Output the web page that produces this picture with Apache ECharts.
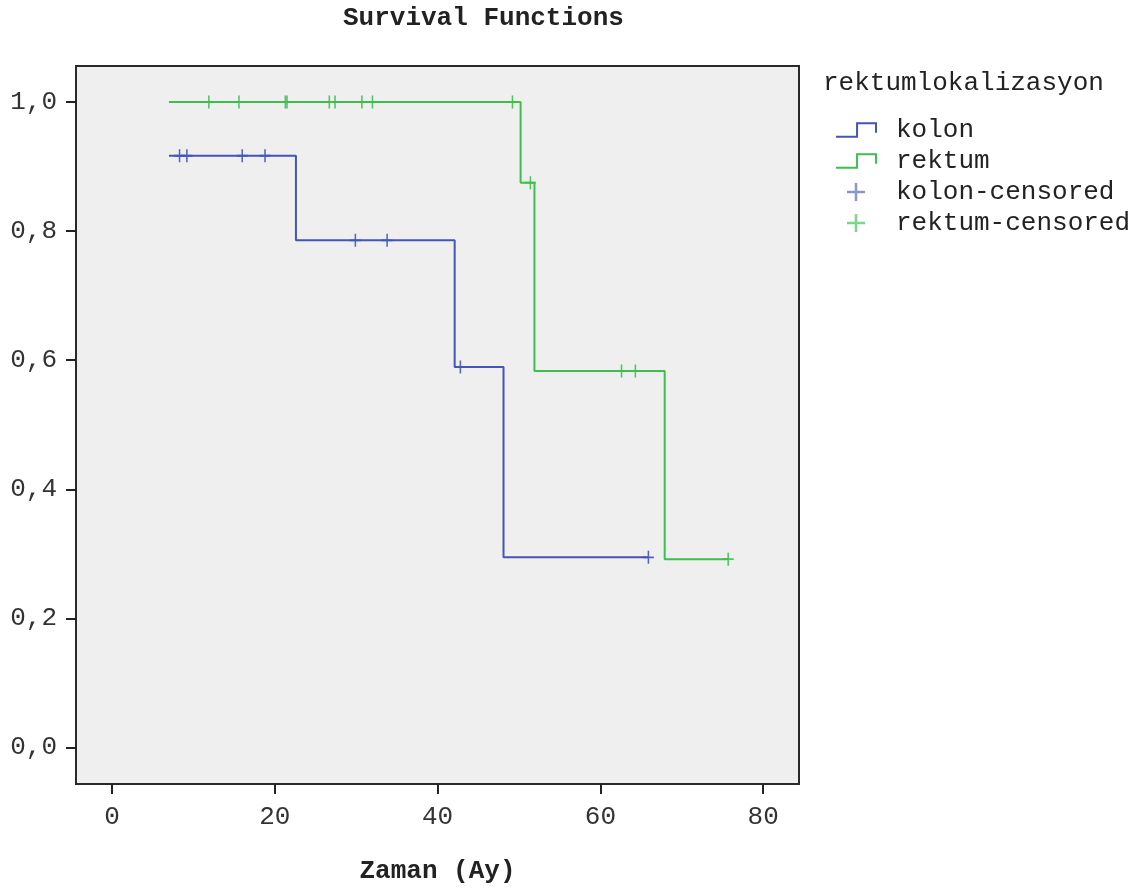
<!DOCTYPE html>
<html>
<head>
<meta charset="utf-8">
<script src="https://cdn.jsdelivr.net/npm/echarts@6/dist/echarts.min.js"></script>
<style>
html,body{margin:0;padding:0;background:#fff;}
#chart{width:1145px;height:888px;}
</style>
</head>
<body>
<div id="chart"></div>
<script>
// Kaplan-Meier step curves (time in months, survival)
const kolonTimes = [7.0, 22.6, 42.1, 48.1, 65.9];
const kolonSurv  = [0.9167, 0.7857, 0.5893, 0.2946, 0.2946];
const rektumTimes = [7.0, 50.2, 51.9, 67.9, 75.7];
const rektumSurv  = [1.0, 0.875, 0.5833, 0.2917, 0.2917];
// Censored observations
const kolonCensTimes = [8.3, 9.2, 16.0, 18.8, 29.9, 33.8, 42.8, 65.9];
const kolonCensSurv  = [0.9167, 0.9167, 0.9167, 0.9167, 0.7857, 0.7857, 0.5893, 0.2946];
const rektumCensTimes = [11.9, 15.6, 21.3, 21.5, 26.7, 27.4, 30.7, 32.0, 49.2, 51.4, 62.6, 64.3, 75.7];
const rektumCensSurv  = [1.0, 1.0, 1.0, 1.0, 1.0, 1.0, 1.0, 1.0, 1.0, 0.875, 0.5833, 0.5833, 0.2917];
// Tick labels
const xTicks = [0, 20, 40, 60, 80];
const yTicks = [0, 0.2, 0.4, 0.6, 0.8, 1.0];

const seriesNames = ['kolon', 'rektum', 'kolon-censored', 'rektum-censored'];
const blue = '#4356b6';
const green = '#3dbf4b';
const FONT = "'Liberation Mono', 'Courier New', monospace";

function zip(a, b) { return a.map((v, i) => [v, b[i]]); }

const plusPath = 'path://M43,0 H57 V43 H100 V57 H57 V100 H43 V57 H0 V43 H43 Z';
const stepPath = 'path://M0,14 L20,14 L20,1 L38,1 L38,10';

const chart = echarts.init(document.getElementById('chart'), null, {renderer: 'canvas'});
chart.setOption({
  animation: false,
  backgroundColor: '#ffffff',
  title: {
    text: 'Survival Functions',
    left: 338, top: 0,
    textStyle: {fontFamily: FONT, fontSize: 26, fontWeight: 'bold', color: '#222'}
  },
  legend: {
    orient: 'vertical',
    left: 830, top: 112,
    itemGap: 5,
    itemWidth: 40, itemHeight: 18,
    textStyle: {fontFamily: FONT, fontSize: 26, color: '#222', padding: [0, 0, 0, 15]},
    data: [
      {name: seriesNames[0], icon: stepPath, itemStyle: {color: 'transparent', borderColor: blue, borderWidth: 2}},
      {name: seriesNames[1], icon: stepPath, itemStyle: {color: 'transparent', borderColor: green, borderWidth: 2}},
      {name: seriesNames[2], icon: plusPath, itemStyle: {color: '#7d8cc9'}},
      {name: seriesNames[3], icon: plusPath, itemStyle: {color: '#6fd07a'}}
    ]
  },
  graphic: [{
    type: 'text', left: 823, top: 70,
    style: {text: 'rektumlokalizasyon', font: "26px " + FONT, fill: '#222'}
  }],
  grid: {
    left: 76, top: 66, right: 346, bottom: 104,
    outerBoundsMode: 'none',
    show: true, backgroundColor: '#efefef', borderColor: '#2a2a2a', borderWidth: 2
  },
  xAxis: {
    type: 'value',
    min: -4.42, max: 84.4,
    name: 'Zaman (Ay)',
    nameLocation: 'middle', nameGap: 74,
    nameTextStyle: {fontFamily: FONT, fontSize: 26, fontWeight: 'bold', color: '#222'},
    axisLine: {show: false, onZero: false},
    axisTick: {show: true, length: 10, customValues: xTicks, lineStyle: {color: '#222', width: 2}},
    axisLabel: {customValues: xTicks, margin: 20, fontFamily: FONT, fontSize: 26, color: '#333'},
    splitLine: {show: false}
  },
  yAxis: {
    type: 'value',
    min: -0.0565, max: 1.0557,
    axisLine: {show: false, onZero: false},
    axisTick: {show: true, length: 10, customValues: yTicks, lineStyle: {color: '#222', width: 2}},
    axisLabel: {
      customValues: yTicks, margin: 19, fontFamily: FONT, fontSize: 26, color: '#333',
      formatter: v => v.toFixed(1).replace('.', ',')
    },
    splitLine: {show: false}
  },
  series: [
    {
      name: seriesNames[0], type: 'line', step: 'end', symbol: 'none',
      data: zip(kolonTimes, kolonSurv),
      lineStyle: {color: blue, width: 2}, itemStyle: {color: blue}, z: 3
    },
    {
      name: seriesNames[1], type: 'line', step: 'end', symbol: 'none',
      data: zip(rektumTimes, rektumSurv),
      lineStyle: {color: green, width: 2}, itemStyle: {color: green}, z: 3
    },
    {
      name: seriesNames[2], type: 'scatter', symbol: plusPath, symbolSize: [11, 13],
      data: zip(kolonCensTimes, kolonCensSurv),
      itemStyle: {color: blue, opacity: 0.9}, z: 4
    },
    {
      name: seriesNames[3], type: 'scatter', symbol: plusPath, symbolSize: [11, 13],
      data: zip(rektumCensTimes, rektumCensSurv),
      itemStyle: {color: green, opacity: 0.9}, z: 4
    }
  ]
});
</script>
</body>
</html>
